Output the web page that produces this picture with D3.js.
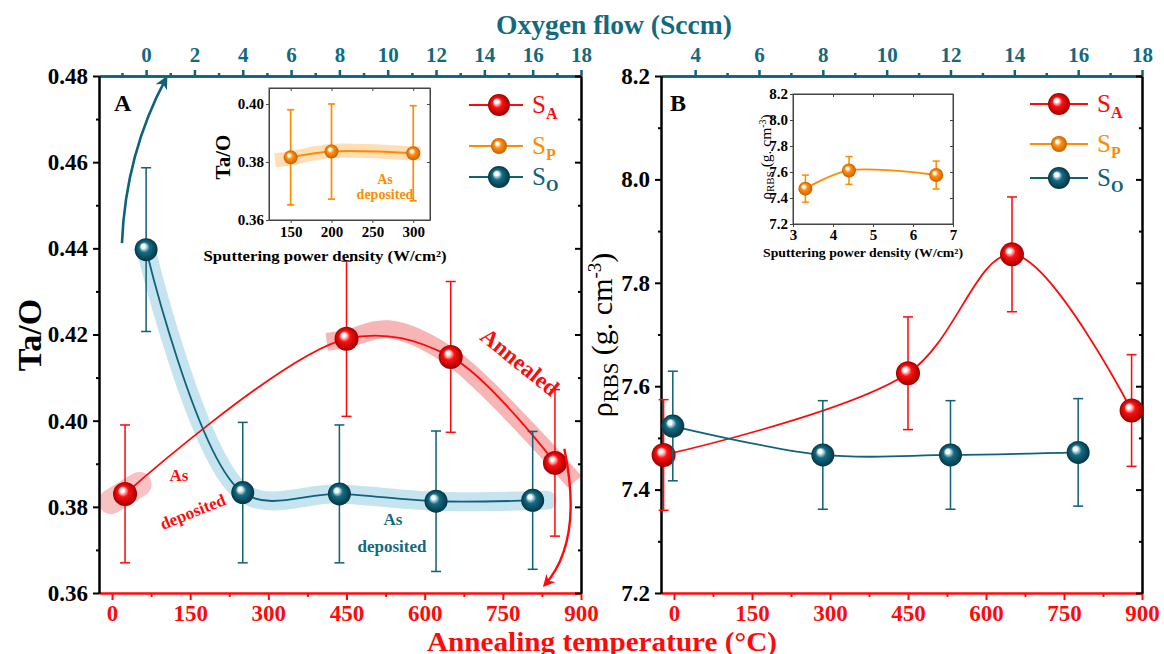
<!DOCTYPE html>
<html><head><meta charset="utf-8">
<script src="https://cdn.jsdelivr.net/npm/d3@7"></script>
<style>
body{margin:0;background:#fff}
svg{display:block}
text{font-family:"Liberation Serif","DejaVu Serif",serif}
</style>
</head><body>
<svg id="c" width="1164" height="654"></svg>
<script>
// ---------------- data ----------------
const tempTicks = [0, 150, 300, 450, 600, 750, 900];
const tempMinor = [75, 225, 375, 525, 675, 825];
const flowTicksA = [0, 2, 4, 6, 8, 10, 12, 14, 16, 18];
const flowMinorA = [-1, 1, 3, 5, 7, 9, 11, 13, 15, 17];
const flowTicksB = [4, 6, 8, 10, 12, 14, 16, 18];
const flowMinorB = [5, 7, 9, 11, 13, 15, 17];
const taoTicks = [0.36, 0.38, 0.40, 0.42, 0.44, 0.46, 0.48];
const taoMinor = [0.37, 0.39, 0.41, 0.43, 0.45, 0.47];
const rhoTicks = [7.2, 7.4, 7.6, 7.8, 8.0, 8.2];
const rhoMinor = [7.3, 7.5, 7.7, 7.9, 8.1];

// Panel A : Ta/O
const saTempA = [25, 450, 650, 850];
const saTaO = [0.383, 0.419, 0.4148, 0.3902];
const saTaOErr = [0.016, 0.018, 0.0175, 0.017];
const soFlowA = [0, 4, 8, 12, 16];
const soTaO = [0.4397, 0.3833, 0.3830, 0.3813, 0.3815];
const soTaOErr = [0.019, 0.0163, 0.016, 0.0163, 0.016];
// inset A
const spPowerA = [150, 200, 300];
const spTaO = [0.3816, 0.3836, 0.3830];
const spTaOErr = [0.0164, 0.0164, 0.0164];
const insetATicksX = [150, 200, 250, 300];
const insetATicksY = [0.36, 0.38, 0.40];

// Panel B : density
const saTempB = [-20, 450, 650, 880];
const saRho = [7.467, 7.625, 7.855, 7.553];
const saRhoErr = [0.107, 0.109, 0.111, 0.108];
const soFlowB = [3.3, 8, 12, 16];
const soRho = [7.523, 7.467, 7.467, 7.472];
const soRhoErr = [0.106, 0.105, 0.105, 0.104];
// inset B
const spPowerB = [3.31, 4.40, 6.58];
const spRho = [7.472, 7.612, 7.577];
const spRhoErr = [0.104, 0.107, 0.107];
const insetBTicksX = [3, 4, 5, 6, 7];
const insetBTicksY = [7.2, 7.4, 7.6, 7.8, 8.0, 8.2];

// highlight bands (data coordinates)
const bandRedA = [[412, 0.4183], [450, 0.419], [530, 0.4212], [650, 0.4148], [888, 0.3858]];
const blobRedA = [[-2, 0.3812], [52, 0.3852]];
const bandTealA = [[0, 0.4397], [4, 0.3833], [8, 0.383], [12, 0.3813], [16.6, 0.3815]];
const bandOrangeInset = [[131, 0.3806], [150, 0.3813], [200, 0.3838], [300, 0.383], [309, 0.383]];

// ---------------- style ----------------
const RED = "#ff0a0a", ORANGE = "#ff8c00", TEAL = "#0f6279", TEALTXT = "#13697f";
const svg = d3.select("#c");
const defs = svg.append("defs");
function sphereGrad(id, c, dark) {
  const g = defs.append("radialGradient").attr("id", id)
    .attr("cx", "50%").attr("cy", "50%").attr("r", "50%").attr("fx", "36%").attr("fy", "32%");
  g.append("stop").attr("offset", "0%").attr("stop-color", "#ffffff");
  g.append("stop").attr("offset", "18%").attr("stop-color", "#ffffff").attr("stop-opacity", 0.9);
  g.append("stop").attr("offset", "45%").attr("stop-color", c);
  g.append("stop").attr("offset", "100%").attr("stop-color", dark);
}
sphereGrad("gRed", "#ff1010", "#a00000");
sphereGrad("gOrange", "#ff9010", "#c86000");
sphereGrad("gTeal", "#136e86", "#053543");
function arrowMarker(id, c) {
  defs.append("marker").attr("id", id).attr("viewBox", "0 0 10 10").attr("refX", 8).attr("refY", 5)
    .attr("markerWidth", 5).attr("markerHeight", 5).attr("orient", "auto")
    .append("path").attr("d", "M0,0 L10,5 L0,10 L3,5 Z").attr("fill", c);
}
arrowMarker("arTeal", TEAL);
arrowMarker("arRed", RED);

const curve = d3.curveCatmullRom.alpha(0.5);

function styleAxis(g, color, width, fontSize, weight, textColor) {
  g.select(".domain").attr("stroke", color).attr("stroke-width", width);
  g.selectAll(".tick line").attr("stroke", color).attr("stroke-width", width);
  g.selectAll(".tick text").attr("fill", textColor || color).attr("font-size", fontSize)
    .attr("font-weight", weight).attr("font-family", "'Liberation Serif', serif");
}

function series(g, xs, ys, errs, xs_, ys_, color, grad, r, lw, cap) {
  const pts = xs.map((x, i) => [xs_(x), ys_(ys[i])]);
  xs.forEach((x, i) => {
    const px = xs_(x), y1 = ys_(ys[i] + errs[i]), y2 = ys_(ys[i] - errs[i]);
    g.append("line").attr("x1", px).attr("x2", px).attr("y1", y1).attr("y2", y2)
      .attr("stroke", color).attr("stroke-width", lw * 0.85);
    [y1, y2].forEach(yy => g.append("line").attr("x1", px - cap).attr("x2", px + cap)
      .attr("y1", yy).attr("y2", yy).attr("stroke", color).attr("stroke-width", lw * 0.85));
  });
  g.append("path").attr("d", d3.line().curve(curve)(pts)).attr("fill", "none")
    .attr("stroke", color).attr("stroke-width", lw);
  pts.forEach(p => g.append("circle").attr("cx", p[0]).attr("cy", p[1]).attr("r", r)
    .attr("fill", `url(#${grad})`));
}

function band(g, data, xs_, ys_, color, w, cap) {
  g.append("path").attr("d", d3.line().curve(curve)(data.map(d => [xs_(d[0]), ys_(d[1])])))
    .attr("fill", "none").attr("stroke", color).attr("stroke-width", w)
    .attr("stroke-linecap", cap || "butt").attr("stroke-linejoin", "round");
}

function legend(g, x0, x1, xm, ys, xl) {
  const items = [
    { c: RED, grad: "gRed", r: 11, s: "A" },
    { c: ORANGE, grad: "gOrange", r: 8, s: "P" },
    { c: TEAL, grad: "gTeal", r: 11, s: "O" }];
  items.forEach((it, i) => {
    g.append("line").attr("x1", x0).attr("x2", x1).attr("y1", ys[i]).attr("y2", ys[i])
      .attr("stroke", it.c).attr("stroke-width", 2);
    g.append("circle").attr("cx", xm).attr("cy", ys[i]).attr("r", it.r).attr("fill", `url(#${it.grad})`);
    const t = g.append("text").attr("x", xl).attr("y", ys[i] + 8).attr("fill", it.c)
      .attr("font-size", 25);
    t.append("tspan").text("S");
    t.append("tspan").attr("dy", 6).attr("font-size", 16).attr("font-weight", "bold").text(it.s);
  });
}

// ================= PANEL A =================
const xA = d3.scaleLinear([-25, 900], [99, 581]);
const fA = d3.scaleLinear([-1.95, 18], [99, 581]);
const yA = d3.scaleLinear([0.36, 0.48], [593, 76]);
const gA = svg.append("g");

// bands
band(gA, bandTealA, fA, yA, "rgba(150,205,228,0.55)", 19, "round");
band(gA, bandRedA, xA, yA, "rgba(240,120,120,0.55)", 18);
band(gA, blobRedA, xA, yA, "rgba(240,120,120,0.45)", 25, "round");

// axes
let ax;
ax = gA.append("g").attr("transform", "translate(0,593)")
  .call(d3.axisBottom(xA).tickValues(tempMinor).tickSize(4).tickSizeOuter(0).tickFormat(""));
styleAxis(ax, RED, 2);
ax = gA.append("g").attr("transform", "translate(0,593)")
  .call(d3.axisBottom(xA).tickValues(tempTicks).tickSize(7).tickSizeOuter(0).tickPadding(5).tickFormat(d3.format("d")));
styleAxis(ax, RED, 2, 23, "bold");
ax = gA.append("g").attr("transform", "translate(0,76)")
  .call(d3.axisTop(fA).tickValues(flowMinorA).tickSize(3).tickSizeOuter(0).tickFormat(""));
styleAxis(ax, TEAL, 2.5);
ax = gA.append("g").attr("transform", "translate(0,76)")
  .call(d3.axisTop(fA).tickValues(flowTicksA).tickSize(6).tickSizeOuter(0).tickPadding(8).tickFormat(d3.format("d")));
styleAxis(ax, TEAL, 2.5, 21, "bold", TEALTXT);
ax = gA.append("g").attr("transform", "translate(99,0)")
  .call(d3.axisLeft(yA).tickValues(taoMinor).tickSize(3).tickSizeOuter(0).tickFormat(""));
styleAxis(ax, "#000", 2);
ax = gA.append("g").attr("transform", "translate(99,0)")
  .call(d3.axisLeft(yA).tickValues(taoTicks).tickSize(6).tickSizeOuter(0).tickPadding(5).tickFormat(d3.format(".2f")));
styleAxis(ax, "#000", 2, 23, "bold");
ax = gA.append("g").attr("transform", "translate(581,0)")
  .call(d3.axisRight(yA).tickValues(taoMinor).tickSize(-3).tickSizeOuter(0).tickFormat(""));
styleAxis(ax, "#000", 2);
ax = gA.append("g").attr("transform", "translate(581,0)")
  .call(d3.axisRight(yA).tickValues(taoTicks).tickSize(-6).tickSizeOuter(0).tickFormat(""));
styleAxis(ax, "#000", 2);

// series
series(gA, saTempA, saTaO, saTaOErr, xA, yA, RED, "gRed", 12, 1.8, 5);
series(gA, soFlowA, soTaO, soTaOErr, fA, yA, TEAL, "gTeal", 11.5, 1.8, 5);

// arrows
gA.append("path").attr("d", `M${fA(-1.0)},${yA(0.4412)} Q${fA(-0.85)},${yA(0.462)} ${fA(0.83)},${yA(0.4795)}`)
  .attr("fill", "none").attr("stroke", TEAL).attr("stroke-width", 2.6).attr("marker-end", "url(#arTeal)");
gA.append("path").attr("d", `M${xA(868)},${yA(0.3935)} Q${xA(905)},${yA(0.372)} ${xA(830)},${yA(0.3618)}`)
  .attr("fill", "none").attr("stroke", RED).attr("stroke-width", 2.4).attr("marker-end", "url(#arRed)");

// labels
gA.append("text").attr("x", 114).attr("y", 111).attr("font-size", 24).attr("font-weight", "bold").text("A");
gA.append("text").attr("transform", "translate(515,368) rotate(39)").attr("text-anchor", "middle")
  .attr("fill", RED).attr("font-size", 23).attr("font-weight", "bold").text("Annealed");
gA.append("text").attr("x", 179).attr("y", 481).attr("text-anchor", "middle").attr("fill", RED)
  .attr("font-size", 17).attr("font-weight", "bold").text("As");
gA.append("text").attr("transform", "translate(195,517) rotate(-22)").attr("text-anchor", "middle").attr("fill", RED)
  .attr("font-size", 17).attr("font-weight", "bold").text("deposited");
gA.append("text").attr("x", 393).attr("y", 525).attr("text-anchor", "middle").attr("fill", TEALTXT)
  .attr("font-size", 17).attr("font-weight", "bold").text("As");
gA.append("text").attr("x", 392).attr("y", 552).attr("text-anchor", "middle").attr("fill", TEALTXT)
  .attr("font-size", 17).attr("font-weight", "bold").text("deposited");
gA.append("text").attr("transform", "translate(41,335) rotate(-90)").attr("text-anchor", "middle")
  .attr("font-size", 34).attr("font-weight", "bold").text("Ta/O");

legend(gA, 469, 523, 499, [105, 146, 177], 532);

// inset A
const pA = d3.scaleLinear([123.5, 320.5], [269, 430]);
const iyA = d3.scaleLinear([0.36, 0.4055], [220, 88]);
const iA = svg.append("g");
band(iA, bandOrangeInset, pA, iyA, "rgba(255,180,90,0.45)", 14);
iA.append("rect").attr("x", 269).attr("y", 88).attr("width", 161).attr("height", 132)
  .attr("fill", "none").attr("stroke", "#444").attr("stroke-width", 1);
ax = iA.append("g").attr("transform", "translate(0,220)")
  .call(d3.axisBottom(pA).tickValues(insetATicksX).tickSize(3).tickSizeOuter(0).tickPadding(3).tickFormat(d3.format("d")));
styleAxis(ax, "#444", 1, 15, "bold", "#000");
ax = iA.append("g").attr("transform", "translate(269,0)")
  .call(d3.axisLeft(iyA).tickValues(insetATicksY).tickSize(3).tickSizeOuter(0).tickPadding(2).tickFormat(d3.format(".2f")));
styleAxis(ax, "#444", 1, 15, "bold", "#000");
ax = iA.append("g").attr("transform", "translate(0,88)")
  .call(d3.axisBottom(pA).tickValues(insetATicksX).tickSize(3).tickSizeOuter(0).tickFormat(""));
styleAxis(ax, "#444", 1);
ax = iA.append("g").attr("transform", "translate(430,0)")
  .call(d3.axisLeft(iyA).tickValues(insetATicksY).tickSize(3).tickSizeOuter(0).tickFormat(""));
styleAxis(ax, "#444", 1);
series(iA, spPowerA, spTaO, spTaOErr, pA, iyA, ORANGE, "gOrange", 7, 2, 3.5);
iA.append("text").attr("x", 385).attr("y", 184).attr("text-anchor", "middle").attr("fill", ORANGE)
  .attr("font-size", 14).attr("font-weight", "bold").text("As");
iA.append("text").attr("x", 385).attr("y", 199).attr("text-anchor", "middle").attr("fill", ORANGE)
  .attr("font-size", 14).attr("font-weight", "bold").text("deposited");
iA.append("text").attr("transform", "translate(230,157) rotate(-90)").attr("text-anchor", "middle")
  .attr("font-size", 21).attr("font-weight", "bold").text("Ta/O");
iA.append("text").attr("x", 325).attr("y", 261).attr("text-anchor", "middle").attr("font-size", 14.5)
  .attr("font-weight", "bold").attr("textLength", 243).attr("lengthAdjust", "spacingAndGlyphs")
  .text("Sputtering power density (W/cm²)");

// ================= PANEL B =================
const xB = d3.scaleLinear([-25, 900], [661, 1142]);
const fB = d3.scaleLinear([2.93, 18], [661, 1142]);
const yB = d3.scaleLinear([7.2, 8.2], [593, 76]);
const gB = svg.append("g");

ax = gB.append("g").attr("transform", "translate(0,593)")
  .call(d3.axisBottom(xB).tickValues(tempMinor).tickSize(4).tickSizeOuter(0).tickFormat(""));
styleAxis(ax, RED, 2);
ax = gB.append("g").attr("transform", "translate(0,593)")
  .call(d3.axisBottom(xB).tickValues(tempTicks).tickSize(7).tickSizeOuter(0).tickPadding(5).tickFormat(d3.format("d")));
styleAxis(ax, RED, 2, 23, "bold");
ax = gB.append("g").attr("transform", "translate(0,76)")
  .call(d3.axisTop(fB).tickValues(flowMinorB).tickSize(3).tickSizeOuter(0).tickFormat(""));
styleAxis(ax, TEAL, 2.5);
ax = gB.append("g").attr("transform", "translate(0,76)")
  .call(d3.axisTop(fB).tickValues(flowTicksB).tickSize(6).tickSizeOuter(0).tickPadding(8).tickFormat(d3.format("d")));
styleAxis(ax, TEAL, 2.5, 21, "bold", TEALTXT);
ax = gB.append("g").attr("transform", "translate(661,0)")
  .call(d3.axisLeft(yB).tickValues(rhoMinor).tickSize(3).tickSizeOuter(0).tickFormat(""));
styleAxis(ax, "#000", 2);
ax = gB.append("g").attr("transform", "translate(661,0)")
  .call(d3.axisLeft(yB).tickValues(rhoTicks).tickSize(6).tickSizeOuter(0).tickPadding(5).tickFormat(d3.format(".1f")));
styleAxis(ax, "#000", 2, 23, "bold");
ax = gB.append("g").attr("transform", "translate(1142,0)")
  .call(d3.axisRight(yB).tickValues(rhoMinor).tickSize(-3).tickSizeOuter(0).tickFormat(""));
styleAxis(ax, "#000", 2);
ax = gB.append("g").attr("transform", "translate(1142,0)")
  .call(d3.axisRight(yB).tickValues(rhoTicks).tickSize(-6).tickSizeOuter(0).tickFormat(""));
styleAxis(ax, "#000", 2);

series(gB, saTempB, saRho, saRhoErr, xB, yB, RED, "gRed", 12, 1.8, 5);
series(gB, soFlowB, soRho, soRhoErr, fB, yB, TEAL, "gTeal", 11.5, 1.8, 5);

gB.append("text").attr("x", 670).attr("y", 111).attr("font-size", 24).attr("font-weight", "bold").text("B");
{
  const t = gB.append("text").attr("transform", "translate(612,335) rotate(-90)").attr("text-anchor", "middle")
    .attr("font-size", 30);
  t.append("tspan").text("ρ");
  t.append("tspan").attr("dy", 6).attr("font-size", 21).text("RBS");
  t.append("tspan").attr("dy", -6).text(" (g. cm");
  t.append("tspan").attr("dy", -11).attr("font-size", 19).text("-3");
  t.append("tspan").attr("dy", 11).text(")");
}
legend(gB, 1030, 1088, 1059, [104, 144, 178], 1097);

// inset B
const pB = d3.scaleLinear([3, 7], [793, 953]);
const iyB = d3.scaleLinear([7.2, 8.2], [224, 94]);
const iB = svg.append("g");
iB.append("rect").attr("x", 793).attr("y", 94).attr("width", 160).attr("height", 130)
  .attr("fill", "none").attr("stroke", "#444").attr("stroke-width", 1);
ax = iB.append("g").attr("transform", "translate(0,224)")
  .call(d3.axisBottom(pB).tickValues(insetBTicksX).tickSize(3).tickSizeOuter(0).tickPadding(2).tickFormat(d3.format("d")));
styleAxis(ax, "#444", 1, 15, "bold", "#000");
ax = iB.append("g").attr("transform", "translate(793,0)")
  .call(d3.axisLeft(iyB).tickValues(insetBTicksY).tickSize(3).tickSizeOuter(0).tickPadding(2).tickFormat(d3.format(".1f")));
styleAxis(ax, "#444", 1, 15, "bold", "#000");
ax = iB.append("g").attr("transform", "translate(0,94)")
  .call(d3.axisBottom(pB).tickValues(insetBTicksX).tickSize(3).tickSizeOuter(0).tickFormat(""));
styleAxis(ax, "#444", 1);
ax = iB.append("g").attr("transform", "translate(953,0)")
  .call(d3.axisLeft(iyB).tickValues(insetBTicksY).tickSize(3).tickSizeOuter(0).tickFormat(""));
styleAxis(ax, "#444", 1);
series(iB, spPowerB, spRho, spRhoErr, pB, iyB, ORANGE, "gOrange", 7, 1.8, 3.5);
{
  const t = iB.append("text").attr("transform", "translate(771,157) rotate(-90)").attr("text-anchor", "middle")
    .attr("font-size", 15.5);
  t.append("tspan").text("ρ");
  t.append("tspan").attr("dy", 3).attr("font-size", 11).text("RBS");
  t.append("tspan").attr("dy", -3).text(" (g. cm");
  t.append("tspan").attr("dy", -5).attr("font-size", 10).text("-3");
  t.append("tspan").attr("dy", 5).text(")");
}
iB.append("text").attr("x", 863).attr("y", 257).attr("text-anchor", "middle").attr("font-size", 13)
  .attr("font-weight", "bold").attr("textLength", 200).attr("lengthAdjust", "spacingAndGlyphs")
  .text("Sputtering power density (W/cm²)");

// ================= titles =================
svg.append("text").attr("x", 614).attr("y", 34).attr("text-anchor", "middle").attr("fill", TEALTXT)
  .attr("font-size", 27).attr("font-weight", "bold").attr("textLength", 236).attr("lengthAdjust", "spacingAndGlyphs")
  .text("Oxygen flow (Sccm)");
svg.append("text").attr("x", 602).attr("y", 651).attr("text-anchor", "middle").attr("fill", RED)
  .attr("font-size", 28).attr("font-weight", "bold").attr("textLength", 350).attr("lengthAdjust", "spacingAndGlyphs")
  .text("Annealing temperature (°C)");
</script>
</body></html>
